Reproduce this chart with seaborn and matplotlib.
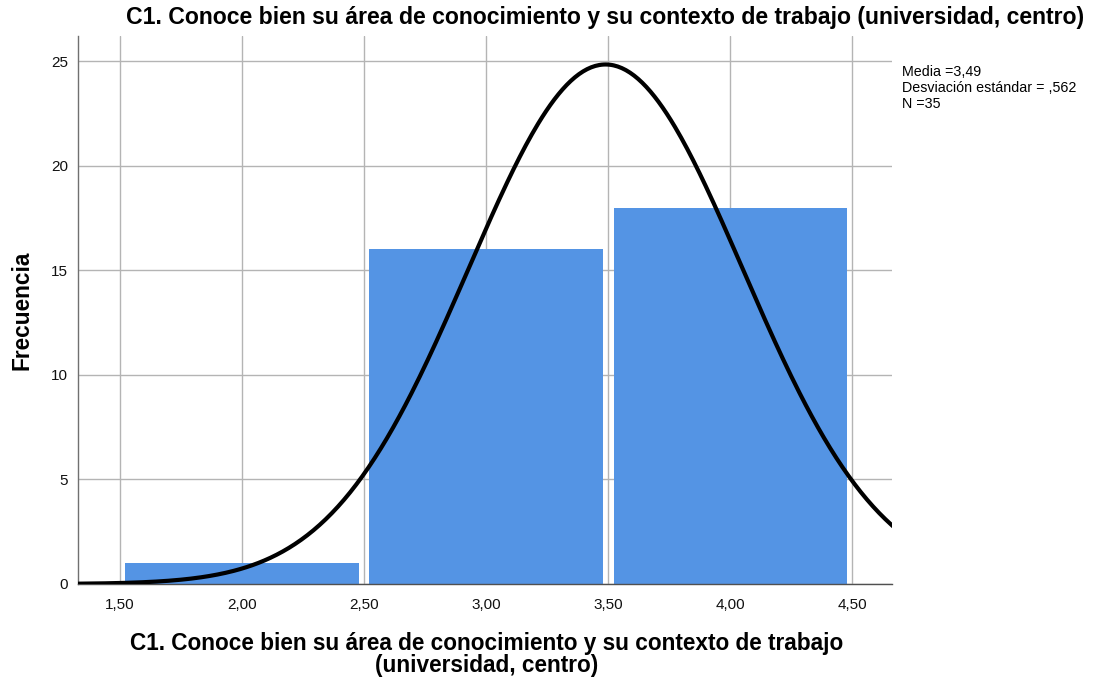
import numpy as np
import pandas as pd
import matplotlib
matplotlib.use("Agg")
import matplotlib.pyplot as plt
import seaborn as sns

# Data
bin_centers = [2.0, 3.0, 4.0]
counts = [1, 16, 18]
bin_edges = [1.5, 2.5, 3.5, 4.5]
mean_val = 3.49
sd_val = 0.562
n_val = 35
x_ticks = [1.5, 2.0, 2.5, 3.0, 3.5, 4.0, 4.5]
x_tick_labels = ["1,50", "2,00", "2,50", "3,00", "3,50", "4,00", "4,50"]
y_ticks = [0, 5, 10, 15, 20, 25]

title = "C1. Conoce bien su área de conocimiento y su contexto de trabajo (universidad, centro)"
xlabel = "C1. Conoce bien su área de conocimiento y su contexto de trabajo\n(universidad, centro)"

sns.set_style("white")
plt.rcParams['font.family'] = ['Liberation Sans', 'DejaVu Sans']
plt.rcParams['text.color'] = 'black'
plt.rcParams['axes.labelcolor'] = 'black'

fig = plt.figure(figsize=(10.96, 6.82), dpi=100)
ax = fig.add_axes([0.0712, 0.1437, 0.8139 - 0.0712, 0.947 - 0.1437])

df = pd.DataFrame({"x": bin_centers, "w": counts})
sns.histplot(data=df, x="x", weights="w", bins=bin_edges, shrink=0.955,
             color="#5494E4", alpha=1, edgecolor="none", linewidth=0, ax=ax, zorder=2)

xs = np.linspace(1.33, 4.67, 400)
ys = n_val * 1.0 * np.exp(-0.5 * ((xs - mean_val) / sd_val) ** 2) / (sd_val * np.sqrt(2 * np.pi))
sns.lineplot(x=xs, y=ys, color="black", linewidth=3.0, ax=ax, zorder=3)

ax.set_xlim(1.328, 4.664)
ax.set_ylim(0, 26.2)
ax.set_xticks(x_ticks)
ax.set_xticklabels(x_tick_labels)
ax.set_yticks(y_ticks)
ax.grid(True, color="#b4b4b4", linewidth=1.0, zorder=0)
ax.set_axisbelow(True)
for s in ["top", "right"]:
    ax.spines[s].set_visible(False)
ax.spines["left"].set_color("#707070")
ax.spines["bottom"].set_color("#505050")
ax.spines["left"].set_linewidth(1.0)
ax.spines["bottom"].set_linewidth(1.0)
ax.tick_params(axis="x", length=0, pad=10, labelsize=11, labelcolor="#111111")
ax.tick_params(axis="y", length=3, width=0.8, color="#707070", pad=4, labelsize=11, labelcolor="#111111")

ax.set_xlabel(xlabel, fontsize=16.3, fontweight="bold", linespacing=0.95, va="top", color="black")
ax.xaxis.set_label_coords(0.502, -0.087)
ax.set_ylabel("Frecuencia", fontsize=16.3, fontweight="bold", va="center", color="black")
ax.yaxis.set_label_coords(-0.069, 0.5)

fig.text(0.552, 0.975, title, ha="center", va="center", fontsize=16.6, fontweight="bold", color="black")

fig.text(0.823, 0.905, "Media =3,49\nDesviación estándar = ,562\nN =35",
         ha="left", va="top", fontsize=10.3, linespacing=1.2, color="black")

fig.savefig("out.png", dpi=100)
